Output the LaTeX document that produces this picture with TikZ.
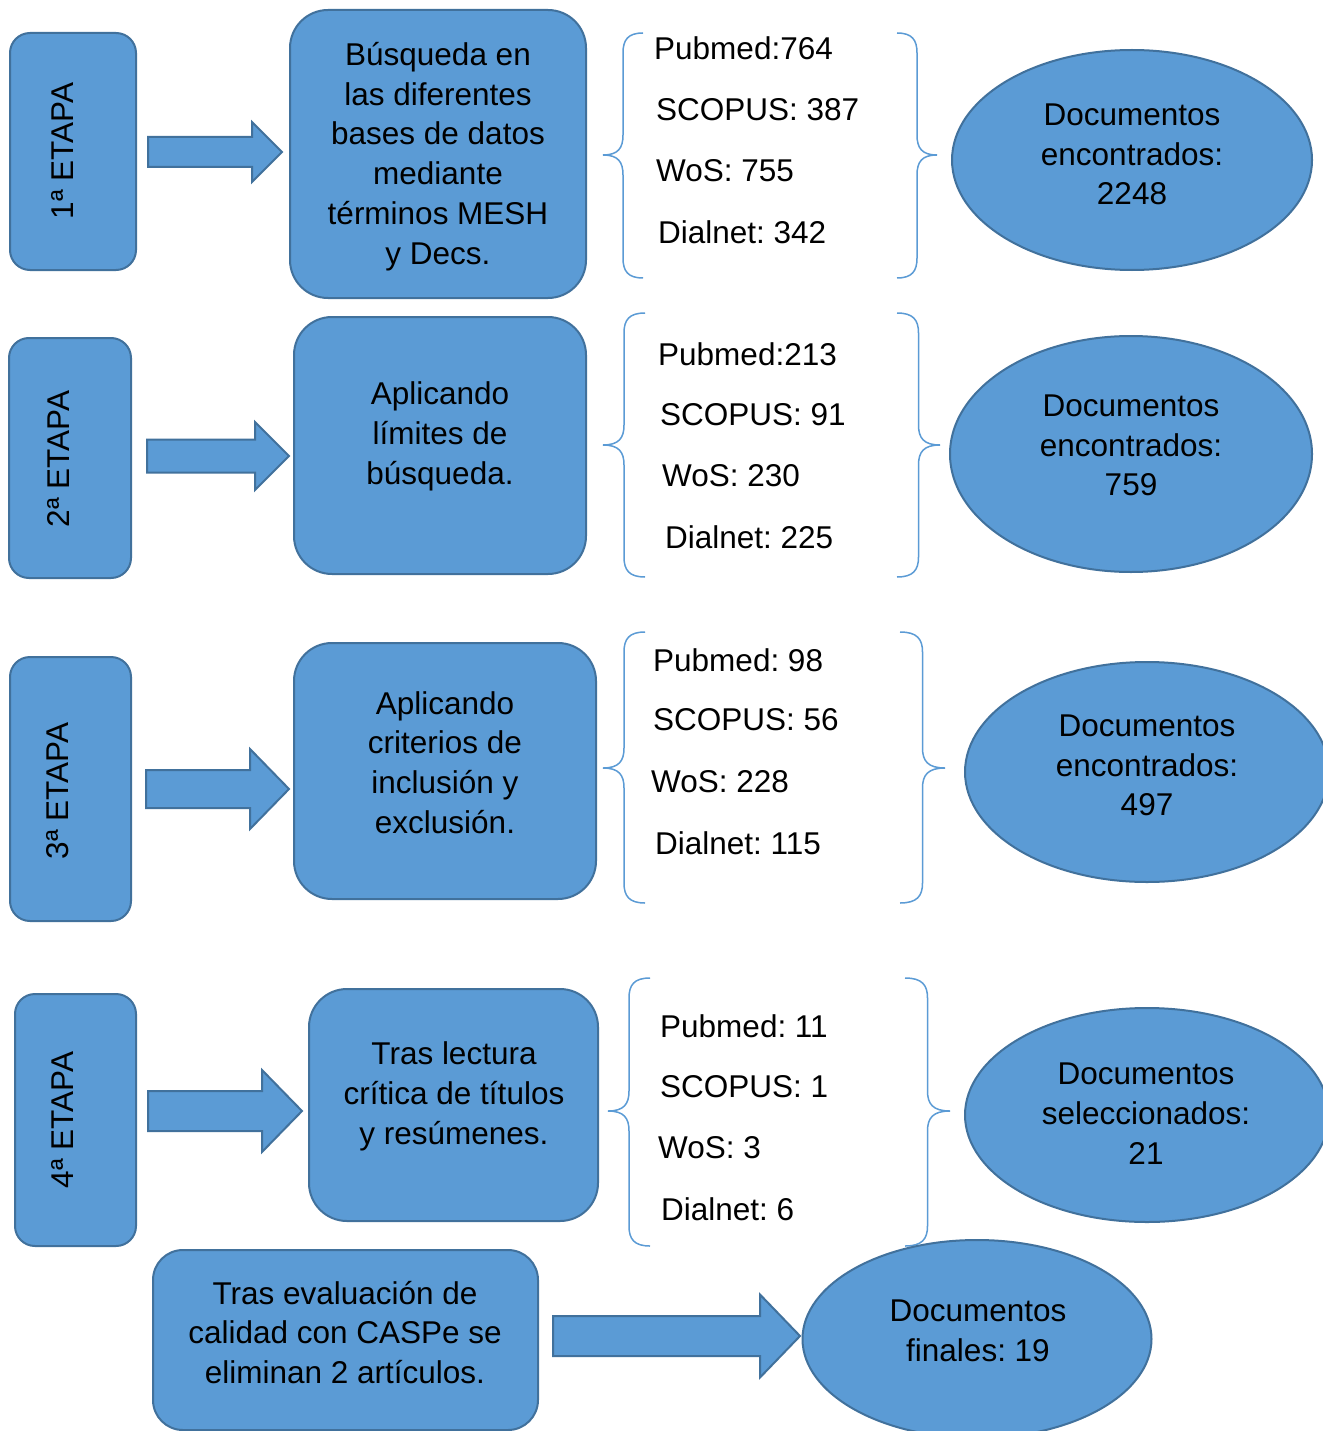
\documentclass[tikz,border=0pt]{standalone}
\usepackage{fontspec}
\setmainfont{Liberation Sans}
\usetikzlibrary{shapes.geometric}
\definecolor{boxfill}{HTML}{5B9BD5}
\definecolor{boxline}{HTML}{41719C}
\definecolor{braceblue}{HTML}{5B9BD5}
\tikzset{
  base/.style={draw=boxline, fill=boxfill, line width=2pt},
  etapa/.style={base, rounded corners=20pt, inner sep=0pt},
  mainbox/.style={base, rounded corners=38pt, inner sep=0pt},
  docell/.style={base, ellipse, inner sep=0pt},
  etxt/.style={font=\fontsize{31.5}{39.7}\selectfont\frenchspacing, inner sep=0pt, rotate=90},
  txt/.style={font=\fontsize{31.5}{39.7}\selectfont\frenchspacing, align=center, inner sep=0pt, yshift=-2.5pt},
  count/.style={font=\fontsize{31.5}{39.7}\selectfont\frenchspacing, anchor=west, inner sep=0pt},
  bracestyle/.style={draw=braceblue, line width=1.5pt},
  blockarrow/.style={base, line join=miter}
}
% block arrow: x start, x neck, x tip, y centre, half body, half head
\newcommand{\blockarr}[6]{%
  \draw[blockarrow] ({#1},{#4-#5}) -- ({#2},{#4-#5}) -- ({#2},{#4-#6}) -- ({#3},{#4})
    -- ({#2},{#4+#6}) -- ({#2},{#4+#5}) -- ({#1},{#4+#5}) -- cycle;}
% curly brace: x tip, width (negative = opens left), y top, y tip, y bottom
\newcommand{\mybrace}[5]{%
  \draw[bracestyle] ({#1+(#2)},{#3}) .. controls ({#1+0.62*(#2)},{#3}) and ({#1+0.5*(#2)},{#3+7}) ..
    ({#1+0.5*(#2)},{#3+20}) -- ({#1+0.5*(#2)},{#4-20})
    .. controls ({#1+0.5*(#2)},{#4-7}) and ({#1+0.38*(#2)},{#4}) .. ({#1},{#4})
    .. controls ({#1+0.38*(#2)},{#4}) and ({#1+0.5*(#2)},{#4+7}) .. ({#1+0.5*(#2)},{#4+20})
    -- ({#1+0.5*(#2)},{#5-20}) .. controls ({#1+0.5*(#2)},{#5-7}) and ({#1+0.62*(#2)},{#5}) .. ({#1+(#2)},{#5});}
\begin{document}
\begin{tikzpicture}[x=1pt, y=-1pt]
\useasboundingbox[fill=white] (0,0) rectangle (1322,1431);

% ---------- Row 1 ----------
\node[etapa, minimum width=126, minimum height=237] (e1) at (73,151.5) {};
\node[etxt] (e1t) at (62,151) {1ª ETAPA};
\blockarr{148}{252}{282}{152}{15}{30}
\node[mainbox, minimum width=296, minimum height=288] (b1) at (438,154) {};
\node[txt] (b1t) at (438,154) {Búsqueda en\\las diferentes\\bases de datos\\mediante\\términos MESH\\y Decs.};
\mybrace{603}{40}{33}{155}{278}
\mybrace{937}{-40}{33}{155}{278}
\node[count] (p1) at (654,48) {Pubmed:764};
\node[count] (s1) at (656,110) {SCOPUS: 387};
\node[count] (w1) at (656,171) {WoS: 755};
\node[count] (d1) at (658,232) {Dialnet: 342};
\node[docell, minimum width=360, minimum height=220] (o1) at (1132,160) {};
\node[txt] (o1t) at (1132,152) {Documentos\\encontrados:\\2248};

% ---------- Row 2 ----------
\node[etapa, minimum width=122, minimum height=240] (e2) at (70,458) {};
\node[etxt] (e2t) at (58,459) {2ª ETAPA};
\blockarr{147}{255}{289}{456}{16.5}{34}
\node[mainbox, minimum width=292, minimum height=257] (b2) at (440,445.5) {};
\node[txt] (b2t) at (440,434) {Aplicando\\límites de\\búsqueda.};
\mybrace{603}{42}{313}{445}{577}
\mybrace{940}{-43}{313}{445}{577}
\node[count] (p2) at (658,354) {Pubmed:213};
\node[count] (s2) at (660,415) {SCOPUS: 91};
\node[count] (w2) at (662,476) {WoS: 230};
\node[count] (d2) at (665,537) {Dialnet: 225};
\node[docell, minimum width=362, minimum height=236] (o2) at (1131,454) {};
\node[txt] (o2t) at (1131,443) {Documentos\\encontrados:\\759};

% ---------- Row 3 ----------
\node[etapa, minimum width=121, minimum height=264] (e3) at (70.5,789) {};
\node[etxt] (e3t) at (58,791) {3ª ETAPA};
\blockarr{146}{250}{289}{789}{19}{40}
\node[mainbox, minimum width=302, minimum height=256] (b3) at (445,771) {};
\node[txt] (b3t) at (445,760) {Aplicando\\criterios de\\inclusión y\\exclusión.};
\mybrace{603}{42}{632}{768}{903}
\mybrace{945}{-45}{632}{768}{903}
\node[count] (p3) at (653,660) {Pubmed: 98};
\node[count] (s3) at (653,720) {SCOPUS: 56};
\node[count] (w3) at (651,782) {WoS: 228};
\node[count] (d3) at (655,843) {Dialnet: 115};
\node[docell, minimum width=364, minimum height=220] (o3) at (1147,772) {};
\node[txt] (o3t) at (1147,763) {Documentos\\encontrados:\\497};

% ---------- Row 4 ----------
\node[etapa, minimum width=121, minimum height=252] (e4) at (75.5,1120) {};
\node[etxt] (e4t) at (62,1120) {4ª ETAPA};
\blockarr{148}{262}{302}{1111}{20}{41}
\node[mainbox, minimum width=289, minimum height=232] (b4) at (453.5,1105) {};
\node[txt] (b4t) at (454,1094) {Tras lectura\\crítica de títulos\\y resúmenes.};
\mybrace{608}{42}{978}{1111}{1246}
\mybrace{950}{-45}{978}{1111}{1246}
\node[count] (p4) at (660,1026) {Pubmed: 11};
\node[count] (s4) at (660,1087) {SCOPUS: 1};
\node[count] (w4) at (658,1148) {WoS: 3};
\node[count] (d4) at (661,1209) {Dialnet: 6};
\node[docell, minimum width=364, minimum height=214] (o4) at (1147,1115) {};
\node[txt] (o4t) at (1146,1111) {Documentos\\seleccionados:\\21};

% ---------- Row 5 ----------
\node[base, rounded corners=30pt, inner sep=0pt, minimum width=385, minimum height=180] (b5) at (345.5,1340) {};
\node[txt] (b5t) at (345,1330) {Tras evaluación de\\calidad con CASPe se\\eliminan 2 artículos.};
\blockarr{553}{760}{800}{1336}{20}{41.5}
\node[docell, minimum width=349, minimum height=198] (o5) at (977,1339) {};
\node[txt] (o5t) at (978,1328) {Documentos\\finales: 19};
\end{tikzpicture}
\end{document}
